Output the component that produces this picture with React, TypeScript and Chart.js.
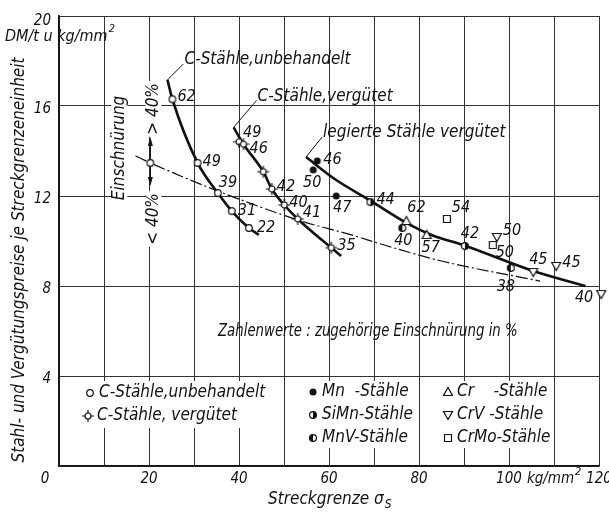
import React, { useEffect, useRef } from 'react';
import { Chart, registerables } from 'chart.js';
Chart.register(...registerables);

const FONT = '"DejaVu Sans Condensed", "Liberation Sans Narrow", "DejaVu Sans", sans-serif';

// ---------- data ----------
const xTickValues = [0, 20, 40, 60, 80, 100, 120];
const yTickValues = [4, 8, 12, 16, 20];

// C-Stähle, unbehandelt
const cuX = [25.2, 30.8, 35.3, 38.4, 42.2];
const cuY = [16.3, 13.47, 12.13, 11.33, 10.58];
const cuLabels = ['62', '49', '39', '31', '22'];
const cuCurveX = [24.1, 25.2, 30.8, 35.3, 38.4, 42.2, 44.4];
const cuCurveY = [17.16, 16.3, 13.47, 12.13, 11.33, 10.58, 10.27];

// C-Stähle, vergütet
const cvX = [40.0, 41.0, 45.4, 47.3, 50.07, 53.05, 60.5];
const cvY = [14.41, 14.3, 13.08, 12.31, 11.6, 10.98, 9.7];
const cvLabels = ['49', '46', '', '42', '40', '41', '35'];
const cvCurveX = [38.8, 41.0, 45.4, 47.3, 50.07, 53.05, 60.5, 62.7];
const cvCurveY = [15.05, 14.3, 13.08, 12.31, 11.6, 10.98, 9.7, 9.33];

// legierte Stähle vergütet (curve)
const lgCurveX = [54.9, 61.6, 69.0, 77.2, 82.8, 90.4, 105.4, 117.0];
const lgCurveY = [13.73, 12.71, 11.82, 10.81, 10.27, 9.78, 8.67, 8.0];

// Einschnürung 40 % boundary (dash-dot)
const einCurveX = [17.0, 20.3, 35.3, 53.8, 65.0, 72.3, 85.0, 106.9];
const einCurveY = [13.78, 13.47, 12.22, 10.89, 10.27, 9.82, 9.11, 8.22];
const einMarkX = [20.3];
const einMarkY = [13.47];

// alloyed steels
const mnX = [57.4, 56.5, 61.6];
const mnY = [13.56, 13.16, 12.0];
const mnLabels = ['46', '50', '47'];
const simnX = [69.2, 90.2];
const simnY = [11.73, 9.78];
const simnLabels = ['44', '42'];
const mnvX = [76.3, 100.4];
const mnvY = [10.58, 8.8];
const mnvLabels = ['40', '38'];
const crX = [77.2, 81.7];
const crY = [10.89, 10.27];
const crLabels = ['62', '57'];
const crvX = [97.3, 105.4, 110.5, 120.5];
const crvY = [10.18, 8.62, 8.89, 7.64];
const crvLabels = ['50', '45', '45', '40'];
const crmoX = [86.2, 96.4];
const crmoY = [10.98, 9.82];
const crmoLabels = ['54', '50'];

// label placement (pixel offsets, style only)
const cuLabelOff: [number, number, string][] = [[5, -2, 'left'], [5, -1, 'left'], [1, -10, 'left'], [6, 0, 'left'], [8, 0, 'left']];
const cvLabelOff: [number, number, string][] = [[4, -9, 'left'], [6, 5, 'left'], [0, 0, 'left'], [5, -2, 'left'], [5, -2, 'left'], [5, -6, 'left'], [6, -2, 'left']];
const mnLabelOff: [number, number, string][] = [[6, -1, 'left'], [-1, 13, 'center'], [6, 12, 'center']];
const simnLabelOff: [number, number, string][] = [[6, -2, 'left'], [5, -12, 'center']];
const mnvLabelOff: [number, number, string][] = [[1, 13, 'center'], [-5, 19, 'center']];
const crLabelOff: [number, number, string][] = [[10, -13, 'center'], [4, 13, 'center']];
const crvLabelOff: [number, number, string][] = [[6, -6, 'left'], [5, -12, 'center'], [6, -3, 'left'], [-8, 4, 'right']];
const crmoLabelOff: [number, number, string][] = [[14, -11, 'center'], [12, 8, 'center']];

const pts = (xs: number[], ys: number[]) => xs.map((x, i) => ({ x, y: ys[i] }));

function drawMarker(g: CanvasRenderingContext2D, kind: string, cx: number, cy: number) {
  g.save();
  g.lineWidth = 1.2;
  g.strokeStyle = '#111';
  g.fillStyle = '#fff';
  const r = 3.3;
  if (kind === 'open') {
    g.beginPath(); g.arc(cx, cy, r, 0, Math.PI * 2); g.fill(); g.stroke();
  } else if (kind === 'vcirc') {
    g.beginPath(); g.arc(cx, cy, 3, 0, Math.PI * 2); g.fill(); g.stroke();
    g.beginPath();
    g.moveTo(cx - 6, cy); g.lineTo(cx - 3, cy);
    g.moveTo(cx + 3, cy); g.lineTo(cx + 6, cy);
    g.moveTo(cx, cy - 6); g.lineTo(cx, cy - 3);
    g.moveTo(cx, cy + 3); g.lineTo(cx, cy + 6);
    g.stroke();
  } else if (kind === 'filled') {
    g.fillStyle = '#111';
    g.beginPath(); g.arc(cx, cy, 3.5, 0, Math.PI * 2); g.fill();
  } else if (kind === 'halfR' || kind === 'halfL') {
    g.beginPath(); g.arc(cx, cy, 3.4, 0, Math.PI * 2); g.fill(); g.stroke();
    g.fillStyle = '#111';
    g.beginPath();
    if (kind === 'halfR') g.arc(cx, cy, 3.4, -Math.PI / 2, Math.PI / 2);
    else g.arc(cx, cy, 3.4, Math.PI / 2, Math.PI * 1.5);
    g.closePath(); g.fill();
  } else if (kind === 'tri' || kind === 'triDown') {
    const s = kind === 'tri' ? 1 : -1;
    g.beginPath();
    g.moveTo(cx, cy - 4.5 * s);
    g.lineTo(cx - 4.5, cy + 3.5 * s);
    g.lineTo(cx + 4.5, cy + 3.5 * s);
    g.closePath(); g.fill(); g.stroke();
  } else if (kind === 'square') {
    g.beginPath(); g.rect(cx - 3.5, cy - 3.5, 7, 7); g.fill(); g.stroke();
  }
  g.restore();
}

function markerCanvas(kind: string) {
  const c = document.createElement('canvas');
  c.width = 16; c.height = 16;
  const g = c.getContext('2d')!;
  drawMarker(g, kind, 8, 8);
  return c;
}

function txt(g: CanvasRenderingContext2D, s: string, x: number, y: number, align: CanvasTextAlign = 'left', size = 16) {
  g.font = `italic ${size}px ${FONT}`;
  g.textAlign = align;
  g.textBaseline = 'middle';
  g.fillStyle = '#111';
  g.fillText(s, x, y);
}

export default function App() {
  const ref = useRef<HTMLCanvasElement>(null);
  useEffect(() => {
    const canvas = ref.current!;
    const pointSeries = [
      { xs: cuX, ys: cuY, labels: cuLabels, off: cuLabelOff },
      { xs: cvX, ys: cvY, labels: cvLabels, off: cvLabelOff },
      { xs: mnX, ys: mnY, labels: mnLabels, off: mnLabelOff },
      { xs: simnX, ys: simnY, labels: simnLabels, off: simnLabelOff },
      { xs: mnvX, ys: mnvY, labels: mnvLabels, off: mnvLabelOff },
      { xs: crX, ys: crY, labels: crLabels, off: crLabelOff },
      { xs: crvX, ys: crvY, labels: crvLabels, off: crvLabelOff },
      { xs: crmoX, ys: crmoY, labels: crmoLabels, off: crmoLabelOff },
    ];

    const overlay = {
      id: 'overlay',
      beforeDatasetsDraw(chart: any) {
        const g: CanvasRenderingContext2D = chart.ctx;
        g.save();
        g.fillStyle = '#fff';
        // white areas behind legend text
        g.fillRect(80, 381, 202, 47);
        g.fillRect(305, 381, 113, 67);
        g.fillRect(440, 381, 114, 67);
        g.restore();
      },
      afterDatasetsDraw(chart: any) {
        const g: CanvasRenderingContext2D = chart.ctx;
        const xs = chart.scales.x, ys = chart.scales.y;
        const px = (v: number) => xs.getPixelForValue(v);
        const py = (v: number) => ys.getPixelForValue(v);
        g.save();
        // tick labels
        xTickValues.forEach((v) => {
          let x = px(v);
          if (v === 0) x -= 14;
          if (v === 100) {
            txt(g, '100', x, 479, 'center', 15);
            g.font = `italic 15px ${FONT}`;
            const w = g.measureText('100').width;
            txt(g, 'kg/mm', x + w / 2 + 5, 479, 'left', 15);
            const w2 = g.measureText('kg/mm').width;
            txt(g, '2', x + w / 2 + 5 + w2 + 1, 472, 'left', 11);
          } else {
            txt(g, String(v), x, 479, 'center', 15);
          }
        });
        yTickValues.forEach((v) => {
          txt(g, String(v), 51, py(v) + (v === 20 ? 5 : 3), 'right', 15);
        });
        // axis titles
        g.save();
        g.translate(20, 260);
        g.rotate(-Math.PI / 2);
        txt(g, 'Stahl- und Vergütungspreise je Streckgrenzeneinheit', 0, 0, 'center', 17);
        g.restore();
        txt(g, 'DM/t u kg/mm', 5, 37, 'left', 16);
        g.font = `italic 16px ${FONT}`;
        const dw = g.measureText('DM/t u kg/mm').width;
        txt(g, '2', 5 + dw + 1, 29, 'left', 11);
        txt(g, 'Streckgrenze σ', 268, 500, 'left', 17);
        g.font = `italic 17px ${FONT}`;
        const sw = g.measureText('Streckgrenze σ').width;
        txt(g, 'S', 268 + sw + 1, 505, 'left', 12);

        // curve annotations with leader lines
        g.strokeStyle = '#111';
        g.lineWidth = 1;
        const lead = (vx: number, vy: number, dx: number, dy: number, s: string) => {
          const x0 = px(vx), y0 = py(vy);
          g.beginPath(); g.moveTo(x0, y0); g.lineTo(x0 + dx, y0 + dy); g.stroke();
          txt(g, s, x0 + dx + 1, y0 + dy - 4, 'left', 17);
        };
        lead(cuCurveX[0], cuCurveY[0], 16, -16, 'C-Stähle,unbehandelt');
        lead(cvCurveX[0], cvCurveY[0], 23, -27, 'C-Stähle,vergütet');
        lead(lgCurveX[0], lgCurveY[0], 16, -20, 'legierte Stähle vergütet');

        g.save();
        g.translate(218, 332);
        g.scale(0.87, 1);
        txt(g, 'Zahlenwerte : zugehörige Einschnürung in %', 0, 0, 'left', 17);
        g.restore();

        // Einschnürung indicator
        const ex = px(einMarkX[0]), ey = py(einMarkY[0]);
        g.lineWidth = 1.3;
        g.beginPath(); g.moveTo(ex, ey - 4); g.lineTo(ex, ey - 22); g.moveTo(ex, ey + 4); g.lineTo(ex, ey + 18); g.stroke();
        g.fillStyle = '#111';
        g.beginPath(); g.moveTo(ex, ey - 26); g.lineTo(ex - 2.5, ey - 17); g.lineTo(ex + 2.5, ey - 17); g.closePath(); g.fill();
        g.beginPath(); g.moveTo(ex, ey + 23); g.lineTo(ex - 2.5, ey + 14); g.lineTo(ex + 2.5, ey + 14); g.closePath(); g.fill();
        const rot = (s: string, x: number, y: number) => {
          g.save(); g.translate(x, y); g.rotate(-Math.PI / 2);
          g.font = `italic 17px ${FONT}`;
          const w = g.measureText(s).width;
          g.fillStyle = '#fff';
          g.fillRect(-w / 2 - 2, -8, w + 4, 16);
          txt(g, s, 0, 0, 'center', 17);
          g.restore();
        };
        rot('Einschnürung', ex - 31, ey - 15);
        rot('> 40%', ex + 3, ey - 54);
        rot('< 40%', ex + 3, ey + 56);

        // point labels
        pointSeries.forEach((s) => {
          s.xs.forEach((v, i) => {
            const lab = s.labels[i];
            if (!lab) return;
            const o = s.off[i];
            txt(g, lab, px(v) + o[0], py(s.ys[i]) + o[1], o[2] as CanvasTextAlign, 16);
          });
        });

        // legend
        const legend: [string, number, number, string][] = [
          ['open', 90, 393, 'C-Stähle,unbehandelt'],
          ['vcirc', 88, 416, 'C-Stähle, vergütet'],
          ['filled', 313, 392, 'Mn  -Stähle'],
          ['halfR', 313, 415, 'SiMn-Stähle'],
          ['halfL', 313, 438, 'MnV-Stähle'],
          ['tri', 448, 392, 'Cr    -Stähle'],
          ['triDown', 448, 415, 'CrV -Stähle'],
          ['square', 448, 438, 'CrMo-Stähle'],
        ];
        legend.forEach(([k, x, y, s]) => {
          drawMarker(g, k, x, y);
          txt(g, s, x + 9, y, 'left', 17);
        });
        g.restore();
      },
    };

    const curve = (data: any, width: number, dash: number[] = []) => ({
      data, showLine: true, pointRadius: 0, borderColor: '#111', borderWidth: width,
      borderDash: dash, cubicInterpolationMode: 'monotone', tension: 0.4, fill: false, order: 2,
    });
    const marks = (data: any, style: any, extra: any = {}) => ({
      data, showLine: false, pointStyle: style, pointRadius: 5, borderColor: '#111',
      backgroundColor: '#fff', borderWidth: 1.2, order: 1, ...extra,
    });

    const chart = new Chart(canvas, {
      type: 'scatter',
      data: {
        datasets: [
          curve(pts(cuCurveX, cuCurveY), 2.6),
          curve(pts(cvCurveX, cvCurveY), 2.6),
          curve(pts(lgCurveX, lgCurveY), 2.6),
          curve(pts(einCurveX, einCurveY), 1.2, [12, 3, 2, 3]),
          marks(pts(cuX, cuY), markerCanvas('open')),
          marks(pts(cvX, cvY), markerCanvas('vcirc')),
          marks(pts(einMarkX, einMarkY), markerCanvas('open')),
          marks(pts(mnX, mnY), markerCanvas('filled')),
          marks(pts(simnX, simnY), markerCanvas('halfR')),
          marks(pts(mnvX, mnvY), markerCanvas('halfL')),
          marks(pts(crX, crY), markerCanvas('tri')),
          marks(pts(crvX, crvY), markerCanvas('triDown'), { clip: false }),
          marks(pts(crmoX, crmoY), markerCanvas('square')),
        ] as any,
      },
      options: {
        responsive: false,
        animation: false,
        devicePixelRatio: 1,
        events: [],
        layout: { padding: { left: 59, top: 16, right: 10, bottom: 48 } },
        plugins: { legend: { display: false }, tooltip: { enabled: false }, title: { display: false } },
        scales: {
          x: {
            type: 'linear', min: 0, max: 120,
            ticks: { stepSize: 10, display: false },
            grid: { color: '#333', lineWidth: 1, drawTicks: false },
            border: { display: true, color: '#111', width: 1.6 },
          },
          y: {
            type: 'linear', min: 0, max: 20,
            ticks: { stepSize: 4, display: false },
            grid: { color: '#333', lineWidth: 1, drawTicks: false },
            border: { display: true, color: '#111', width: 1.6 },
          },
        },
      } as any,
      plugins: [overlay],
    });
    return () => chart.destroy();
  }, []);
  return (
    <div style={{ position: 'absolute', left: 0, top: 0, width: 609, height: 514, background: '#fff' }}>
      <canvas ref={ref} width={609} height={514} style={{ width: 609, height: 514, display: 'block' }} />
    </div>
  );
}
